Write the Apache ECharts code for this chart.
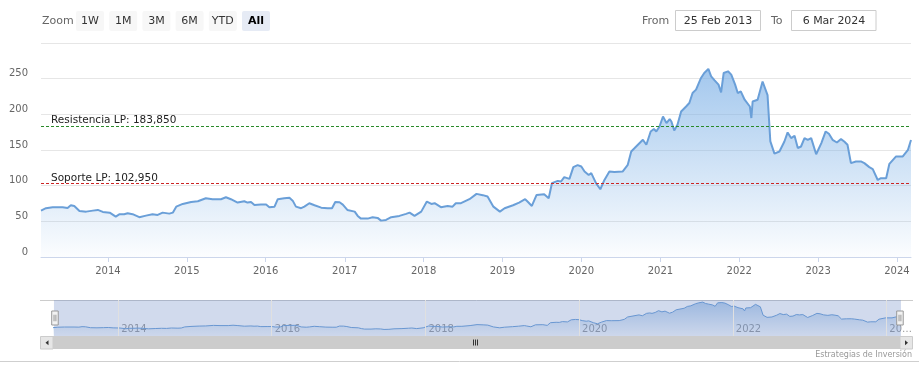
<!DOCTYPE html>
<html>
<head>
<meta charset="utf-8">
<script src="https://cdn.jsdelivr.net/npm/echarts@6/dist/echarts.min.js"></script>
<style>
html, body { margin: 0; padding: 0; background: #fff; }
#chart { width: 919px; height: 378px; }
</style>
</head>
<body>
<div id="chart"></div>
<script>
// price history
const dates = [
    '2013-02-25', '2013-03-20', '2013-04-20', '2013-06-05', '2013-06-28', '2013-07-13', '2013-07-29', '2013-08-22',
    '2013-09-22', '2013-10-23', '2013-11-15', '2013-12-08', '2014-01-09', '2014-02-06', '2014-02-24', '2014-03-17',
    '2014-04-02', '2014-04-25', '2014-05-26', '2014-06-26', '2014-07-26', '2014-08-19', '2014-09-11', '2014-10-12',
    '2014-10-28', '2014-11-13', '2014-12-13', '2015-01-21', '2015-02-21', '2015-03-30', '2015-04-30', '2015-06-08',
    '2015-07-01', '2015-07-24', '2015-08-24', '2015-09-24', '2015-10-09', '2015-10-25', '2015-11-10', '2015-12-10',
    '2016-01-03', '2016-01-18', '2016-02-11', '2016-02-26', '2016-03-27', '2016-04-20', '2016-05-05', '2016-05-20',
    '2016-06-13', '2016-06-28', '2016-07-21', '2016-08-14', '2016-09-14', '2016-10-14', '2016-11-03', '2016-11-18',
    '2016-12-08', '2016-12-23', '2017-01-13', '2017-02-16', '2017-03-02', '2017-03-17', '2017-04-17', '2017-05-10',
    '2017-06-02', '2017-06-18', '2017-07-11', '2017-08-04', '2017-09-11', '2017-10-12', '2017-10-28', '2017-11-20',
    '2017-12-21', '2018-01-16', '2018-02-06', '2018-02-21', '2018-03-22', '2018-04-22', '2018-05-15', '2018-05-30',
    '2018-06-23', '2018-08-01', '2018-09-03', '2018-10-02', '2018-10-24', '2018-11-02', '2018-11-20', '2018-12-20',
    '2019-01-11', '2019-02-19', '2019-03-19', '2019-04-16', '2019-04-27', '2019-05-17', '2019-06-08', '2019-07-13',
    '2019-08-03', '2019-08-18', '2019-09-14', '2019-09-29', '2019-10-14', '2019-11-07', '2019-11-25', '2019-12-15',
    '2020-01-01', '2020-01-16', '2020-02-04', '2020-02-16', '2020-03-09', '2020-03-29', '2020-04-17', '2020-05-10',
    '2020-06-02', '2020-07-10', '2020-08-03', '2020-08-19', '2020-09-04', '2020-09-11', '2020-10-12', '2020-10-28',
    '2020-11-17', '2020-12-02', '2020-12-13', '2020-12-28', '2021-01-13', '2021-01-29', '2021-02-13', '2021-02-21',
    '2021-03-06', '2021-03-21', '2021-04-07', '2021-04-30', '2021-05-15', '2021-05-30', '2021-06-15', '2021-07-08',
    '2021-07-23', '2021-08-11', '2021-08-24', '2021-09-09', '2021-09-27', '2021-10-09', '2021-10-21', '2021-11-10',
    '2021-11-25', '2021-12-13', '2021-12-25', '2022-01-08', '2022-01-26', '2022-02-19', '2022-02-26', '2022-03-04',
    '2022-03-27', '2022-04-19', '2022-05-12', '2022-05-25', '2022-06-13', '2022-07-06', '2022-07-29', '2022-08-13',
    '2022-08-29', '2022-09-14', '2022-09-29', '2022-10-14', '2022-10-30', '2022-11-14', '2022-11-30', '2022-12-23',
    '2023-01-16', '2023-02-05', '2023-02-20', '2023-03-09', '2023-03-29', '2023-04-17', '2023-05-02', '2023-05-17',
    '2023-06-02', '2023-06-25', '2023-07-18', '2023-08-03', '2023-08-26', '2023-09-11', '2023-10-04', '2023-10-19',
    '2023-11-12', '2023-11-27', '2023-12-28', '2024-01-28', '2024-02-21', '2024-03-06'
];
const prices = [
    65, 68.4, 69.8, 69.8, 68.8, 72.6, 71.6, 64.6,
    63.6, 65, 66, 63.2, 62.2, 56.6, 60, 60,
    61.4, 60, 55.8, 58, 60, 59, 62.2, 60.8,
    62.2, 70.6, 74.4, 77.2, 78.2, 82.4, 81, 81,
    83.8, 81, 76.3, 78.2, 76.3, 77.2, 73, 73.5,
    73.5, 69.8, 70.6, 81, 82.4, 82.9, 79, 70.6,
    68.4, 70.6, 75.4, 72.6, 69.2, 68.4, 68.4, 77.2,
    76.8, 73.5, 66, 63.6, 57.6, 53.8, 53.8, 55.8,
    54.8, 51, 52, 55.8, 57.6, 60.4, 62.2, 57.6,
    63.6, 77.7, 74.4, 75.4, 69.8, 71.6, 70.6, 75.4,
    75.4, 81, 88.5, 86.7, 84.7, 87, 70.6, 63.6,
    68.4, 72.6, 76.3, 81, 77.7, 71.6, 87, 88,
    82.4, 103.5, 106.7, 105.8, 112, 109.5, 126, 128.8,
    126.8, 119.8, 115, 117.6, 103.5, 95, 108, 119.8,
    119, 119.8, 129.2, 147.9, 152.7, 150.3, 164.3, 157.3,
    176, 179.4, 176, 183, 197, 187.8, 193.4, 190,
    177.4, 185.4, 204, 211, 215.9, 229.9, 234.6, 251,
    258, 263.6, 253.2, 247.6, 241.6, 230.8, 258, 260.3,
    255.6, 241.6, 229.9, 232.2, 220.5, 211, 194.8, 218,
    220.5, 246, 227, 162, 145, 147.9, 161.9, 174.6,
    166.7, 169.9, 152.7, 154.9, 166.7, 164.3, 166.7, 144,
    159.7, 176, 172.8, 164.3, 160.5, 165.3, 161.9, 157.3,
    131.6, 133.8, 134, 131.6, 126, 123.2, 108, 110.5,
    110.5, 130.6, 141, 141, 150.3, 164
];
const resistencia = 183.85;
const soporte = 102.95;
const yTicks = [0, 50, 100, 150, 200, 250, 300];
const navYears = [2014, 2016, 2018, 2020, 2022, 2024];
const rangeButtons = ['1W', '1M', '3M', '6M', 'YTD', 'All'];
const selectedRange = 'All';
const fromText = '25 Feb 2013';
const toText = '6 Mar 2024';
const creditText = 'Estrategias de Inversión';

const FONT = 'DejaVu Sans';
const DAY = 24 * 3600 * 1000;
const lineColor = '#6a9fd8';

const times = dates.map(d => Date.parse(d));
const points = times.map((t, i) => [t, prices[i]]);

function isNewYear(v) {
    const d = new Date(v);
    return d.getUTCMonth() === 0 && d.getUTCDate() === 1;
}
function fmtLevel(v) {
    return v.toFixed(3).replace('.', ',');
}

// range selector, input boxes, scrollbar and credits
const graphics = [];
graphics.push({
    type: 'text', x: 42, y: 21,
    style: { text: 'Zoom', fill: '#666', fontSize: 11, fontFamily: FONT, align: 'left', verticalAlign: 'middle' }
});
rangeButtons.forEach((b, i) => {
    const x = 76 + i * 33.2;
    const on = b === selectedRange;
    graphics.push({
        type: 'rect', shape: { x: x, y: 11, width: 28, height: 20, r: 2 },
        style: { fill: on ? '#e6ebf5' : '#f7f7f7' }
    });
    graphics.push({
        type: 'text', x: x + 14, y: 21,
        style: {
            text: b, fill: on ? '#000' : '#333', fontSize: 11, fontFamily: FONT,
            fontWeight: on ? 'bold' : 'normal', align: 'center', verticalAlign: 'middle'
        }
    });
});
graphics.push({
    type: 'text', x: 642, y: 21,
    style: { text: 'From', fill: '#666', fontSize: 11, fontFamily: FONT, align: 'left', verticalAlign: 'middle' }
});
graphics.push({
    type: 'rect', shape: { x: 675.5, y: 10.5, width: 85, height: 20 },
    style: { fill: '#fff', stroke: '#cccccc', lineWidth: 1 }
});
graphics.push({
    type: 'text', x: 718, y: 21,
    style: { text: fromText, fill: '#333', fontSize: 11, fontFamily: FONT, align: 'center', verticalAlign: 'middle' }
});
graphics.push({
    type: 'text', x: 771, y: 21,
    style: { text: 'To', fill: '#666', fontSize: 11, fontFamily: FONT, align: 'left', verticalAlign: 'middle' }
});
graphics.push({
    type: 'rect', shape: { x: 791.5, y: 10.5, width: 84.5, height: 20 },
    style: { fill: '#fff', stroke: '#cccccc', lineWidth: 1 }
});
graphics.push({
    type: 'text', x: 834, y: 21,
    style: { text: toText, fill: '#333', fontSize: 11, fontFamily: FONT, align: 'center', verticalAlign: 'middle' }
});
// navigator outline
graphics.push({
    type: 'line', shape: { x1: 40, y1: 300.5, x2: 913, y2: 300.5 },
    style: { stroke: '#cccccc', lineWidth: 1 }
});
// scrollbar
graphics.push({
    type: 'rect', shape: { x: 53, y: 336, width: 847, height: 13 },
    style: { fill: '#cccccc' }
});
graphics.push({
    type: 'rect', shape: { x: 40.5, y: 336.5, width: 12.5, height: 12.5 },
    style: { fill: '#e6e6e6', stroke: '#cccccc', lineWidth: 1 }
});
graphics.push({
    type: 'rect', shape: { x: 900, y: 336.5, width: 12.5, height: 12.5 },
    style: { fill: '#e6e6e6', stroke: '#cccccc', lineWidth: 1 }
});
graphics.push({
    type: 'polygon', shape: { points: [[45.5, 342.8], [48.5, 340.3], [48.5, 345.3]] },
    style: { fill: '#333' }
});
graphics.push({
    type: 'polygon', shape: { points: [[908, 342.8], [905, 340.3], [905, 345.3]] },
    style: { fill: '#333' }
});
[473.5, 475.5, 477.5].forEach(x => {
    graphics.push({
        type: 'line', shape: { x1: x, y1: 339.5, x2: x, y2: 345.5 },
        style: { stroke: '#333', lineWidth: 1 }
    });
});
// bottom rule + credits
graphics.push({
    type: 'line', shape: { x1: 0, y1: 361.5, x2: 919, y2: 361.5 },
    style: { stroke: '#cfcfcf', lineWidth: 1 }
});
graphics.push({
    type: 'text', x: 912, y: 355,
    style: { text: creditText, fill: '#999', fontSize: 8, fontFamily: FONT, align: 'right', verticalAlign: 'middle' }
});

const chart = echarts.init(document.getElementById('chart'), null, { renderer: 'canvas' });

const option = {
    animation: false,
    useUTC: true,
    backgroundColor: '#fff',
    textStyle: { fontFamily: FONT },
    grid: [
        { left: 41, right: 8, top: 43, height: 214 },
        { left: 53, right: 19, top: 300, height: 36 }
    ],
    xAxis: [
        {
            type: 'time',
            gridIndex: 0,
            min: times[0],
            max: times[times.length - 1],
            minInterval: 365 * DAY,
            maxInterval: 366 * DAY,
            axisLine: { show: true, lineStyle: { color: '#ccd6eb' } },
            axisTick: { show: true, length: 5, lineStyle: { color: '#ccd6eb' } },
            splitLine: { show: false },
            axisLabel: {
                color: '#666',
                fontSize: 10,
                margin: 9,
                hideOverlap: false,
                formatter: v => isNewYear(v) ? String(new Date(v).getUTCFullYear()) : ''
            }
        },
        {
            type: 'time',
            gridIndex: 1,
            min: times[0],
            max: times[times.length - 1],
            minInterval: 365 * DAY,
            maxInterval: 366 * DAY,
            axisLine: { show: false },
            axisTick: { show: false },
            splitLine: { show: false },
            axisLabel: {
                inside: true,
                color: '#999',
                fontSize: 10,
                margin: 2,
                align: 'left',
                padding: [0, 0, 0, 3],
                hideOverlap: false,
                formatter: v => {
                    if (!isNewYear(v)) return '';
                    const y = new Date(v).getUTCFullYear();
                    if (navYears.indexOf(y) < 0) return '';
                    return y === 2024 ? '20…' : String(y);
                }
            }
        }
    ],
    yAxis: [
        {
            type: 'value',
            gridIndex: 0,
            min: yTicks[0],
            max: yTicks[yTicks.length - 1],
            interval: 50,
            axisLine: { show: false },
            axisTick: { show: false },
            splitLine: { lineStyle: { color: '#e6e6e6' } },
            axisLabel: {
                color: '#666',
                fontSize: 10,
                margin: 13,
                verticalAlign: 'bottom',
                formatter: v => v === 300 ? '' : String(v)
            }
        },
        {
            type: 'value',
            gridIndex: 1,
            min: 0,
            max: 280,
            show: false
        }
    ],
    dataZoom: [{
        type: 'slider',
        xAxisIndex: 0,
        left: 53,
        right: 19,
        top: 300,
        height: 36,
        start: 0,
        end: 100,
        showDetail: false,
        showDataShadow: false,
        brushSelect: false,
        moveHandleSize: 0,
        realtime: false,
        backgroundColor: 'rgba(0,0,0,0)',
        borderColor: 'transparent',
        fillerColor: 'rgba(102,133,194,0.3)',
        handleIcon: 'path://M0,0 L7,0 L7,15 L0,15 Z M2.5,4 L2.5,11 M4.5,4 L4.5,11',
        handleSize: 14,
        handleStyle: { color: '#f2f2f2', borderColor: '#999', borderWidth: 1 },
        emphasis: { handleStyle: { color: '#f2f2f2', borderColor: '#999', borderWidth: 1 } }
    }],
    series: [
        {
            name: 'Precio',
            type: 'line',
            xAxisIndex: 0,
            yAxisIndex: 0,
            data: points,
            showSymbol: false,
            lineStyle: { color: lineColor, width: 2 },
            itemStyle: { color: lineColor },
            areaStyle: {
                color: new echarts.graphic.LinearGradient(0, 0, 0, 1, [
                    { offset: 0, color: 'rgba(124,176,230,1)' },
                    { offset: 1, color: 'rgba(124,176,230,0.04)' }
                ])
            },
            markLine: {
                silent: true,
                symbol: ['none', 'none'],
                animation: false,
                label: {
                    position: 'insideStartTop',
                    color: '#222',
                    fontSize: 10.5,
                    distance: [10, 0]
                },
                data: [
                    {
                        yAxis: resistencia,
                        lineStyle: { color: '#2a8a2a', type: [3, 2], width: 1 },
                        label: { formatter: 'Resistencia LP: ' + fmtLevel(resistencia) }
                    },
                    {
                        yAxis: soporte,
                        lineStyle: { color: '#cc2424', type: [3, 2], width: 1 },
                        label: { formatter: 'Soporte LP: ' + fmtLevel(soporte) }
                    }
                ]
            }
        },
        {
            name: 'Navegador',
            type: 'line',
            xAxisIndex: 1,
            yAxisIndex: 1,
            data: points,
            showSymbol: false,
            silent: true,
            lineStyle: { color: lineColor, width: 1 },
            areaStyle: {
                color: new echarts.graphic.LinearGradient(0, 0, 0, 1, [
                    { offset: 0, color: 'rgba(106,159,216,0.7)' },
                    { offset: 1, color: 'rgba(106,159,216,0.05)' }
                ])
            },
            // navigator grid lines every two years
            markLine: {
                silent: true,
                symbol: ['none', 'none'],
                animation: false,
                label: { show: false },
                lineStyle: { color: '#e0e0e0', type: 'solid', width: 1 },
                data: navYears.map(y => ({ xAxis: Date.UTC(y, 0, 1) }))
            }
        }
    ],
    graphic: { elements: graphics }
};

chart.setOption(option);
</script>
</body>
</html>
